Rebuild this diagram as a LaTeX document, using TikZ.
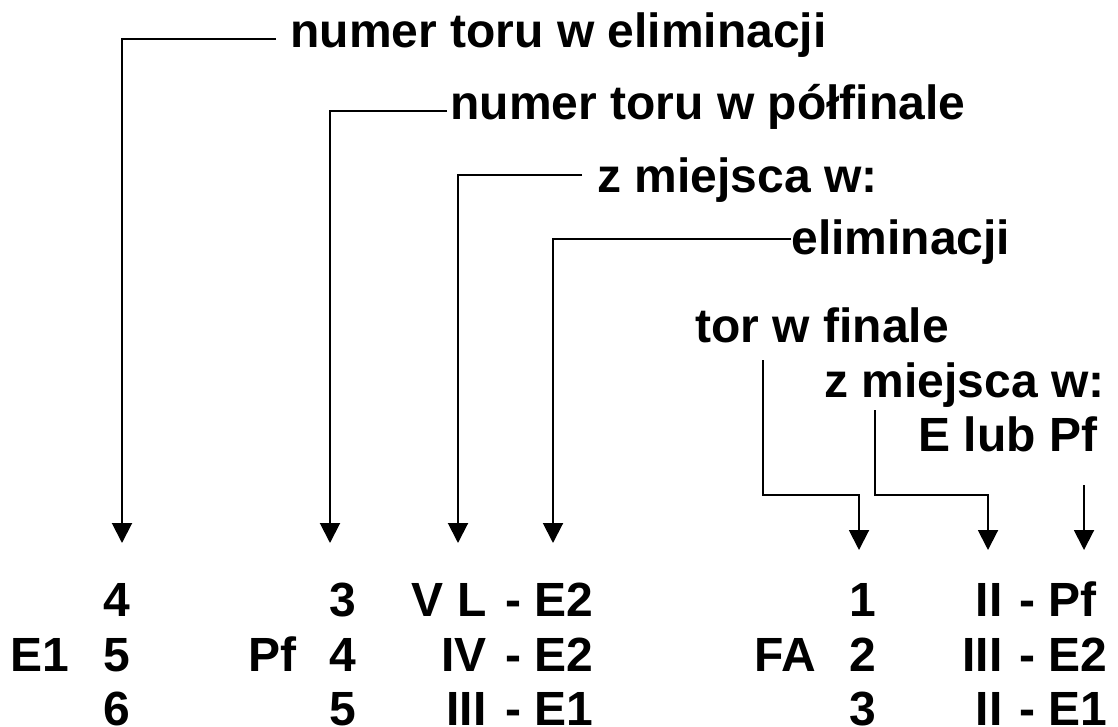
\documentclass[tikz,border=0pt]{standalone}
\usepackage{fontspec}
\setmainfont{Liberation Sans}
\usetikzlibrary{arrows.meta}

\begin{document}
\begin{tikzpicture}
                [x=0.5pt, y=-0.5pt, >={Triangle[length=10pt,width=10pt]},
                leader/.style={line width=1pt},
                hint/.style={anchor=base west,inner sep=0pt,
                    font=\fontsize{24}{28}\selectfont\bfseries},
                cell/.style={hint},
                cell r/.style={hint,anchor=base east},
                ]
                \useasboundingbox (0,0) rectangle (1118,727);

                % opisy
                \node[hint] (torE) at (290,48) {numer toru w eliminacji};
                \node[hint] (torPf) at (450,120) {numer toru w półfinale};
                \node[hint] (zMiejsca) at (597,193) {z miejsca w:};
                \node[hint] (elim) at (791,255) {eliminacji};
                \node[hint] (torF) at (695,342) {tor w finale};
                \node[hint] (zMiejscaF) at (824,397) {z miejsca w:};
                \node[hint] (EPf) at (918,451) {E lub Pf};

                \coordinate (tipE) at (122,543);
                \coordinate (tipPf) at (330,543);
                \coordinate (tipZ) at (458,543);
                \coordinate (tipEl) at (553,543);
                \coordinate (tipF) at (859,550);
                \coordinate (tipZF) at (988,550);
                \coordinate (tipEPf) at (1084,550);

                \draw[leader,->] (torE.base west) ++(-14,-9) -| (tipE);
                \draw[leader,->] (torPf.base west) ++(-3,-9) -| (tipPf);
                \draw[leader,->] (zMiejsca.base west) ++(-15,-18) -| (tipZ);
                \draw[leader,->] (elim.base west) ++(0,-16) -| (tipEl);

                \draw[leader,->] (torF.base west) ++(68,18) -- ++(0,135) -| (tipF);
                \draw[leader,->] (zMiejscaF.base west) ++(51,13) -- ++(0,85) -| (tipZF);
                \draw[leader,->] (EPf.base west) ++(166,34) -- (tipEPf);

                % eliminacje
                \node[cell] (e1) at (10,671) {E1};
                \node[cell] (e1a) at (103,616) {4};
                \node[cell] (e1b) at (103,671) {5};
                \node[cell] (e1c) at (103,725) {6};

                % polfinal
                \node[cell] (pf) at (248,671) {Pf};
                \node[cell] (pfa) at (329,616) {3};
                \node[cell] (pfb) at (329,671) {4};
                \node[cell] (pfc) at (329,725) {5};
                \node[cell r] (pfa-m) at (487,616) {V L};
                \node[cell r] (pfb-m) at (487,671) {IV};
                \node[cell r] (pfc-m) at (487,725) {III};
                \node[cell] (pfa-z) at (505,616) {- E2};
                \node[cell] (pfb-z) at (505,671) {- E2};
                \node[cell] (pfc-z) at (505,725) {- E1};

                % final A
                \node[cell] (fa) at (754,671) {FA};
                \node[cell] (faa) at (849,616) {1};
                \node[cell] (fab) at (849,671) {2};
                \node[cell] (fac) at (849,725) {3};
                \node[cell r] (faa-m) at (1003,616) {II};
                \node[cell r] (fab-m) at (1003,671) {III};
                \node[cell r] (fac-m) at (1003,725) {II};
                \node[cell] (faa-z) at (1019,616) {- Pf};
                \node[cell] (fab-z) at (1019,671) {- E2};
                \node[cell] (fac-z) at (1019,725) {- E1};
            \end{tikzpicture}
\end{document}
